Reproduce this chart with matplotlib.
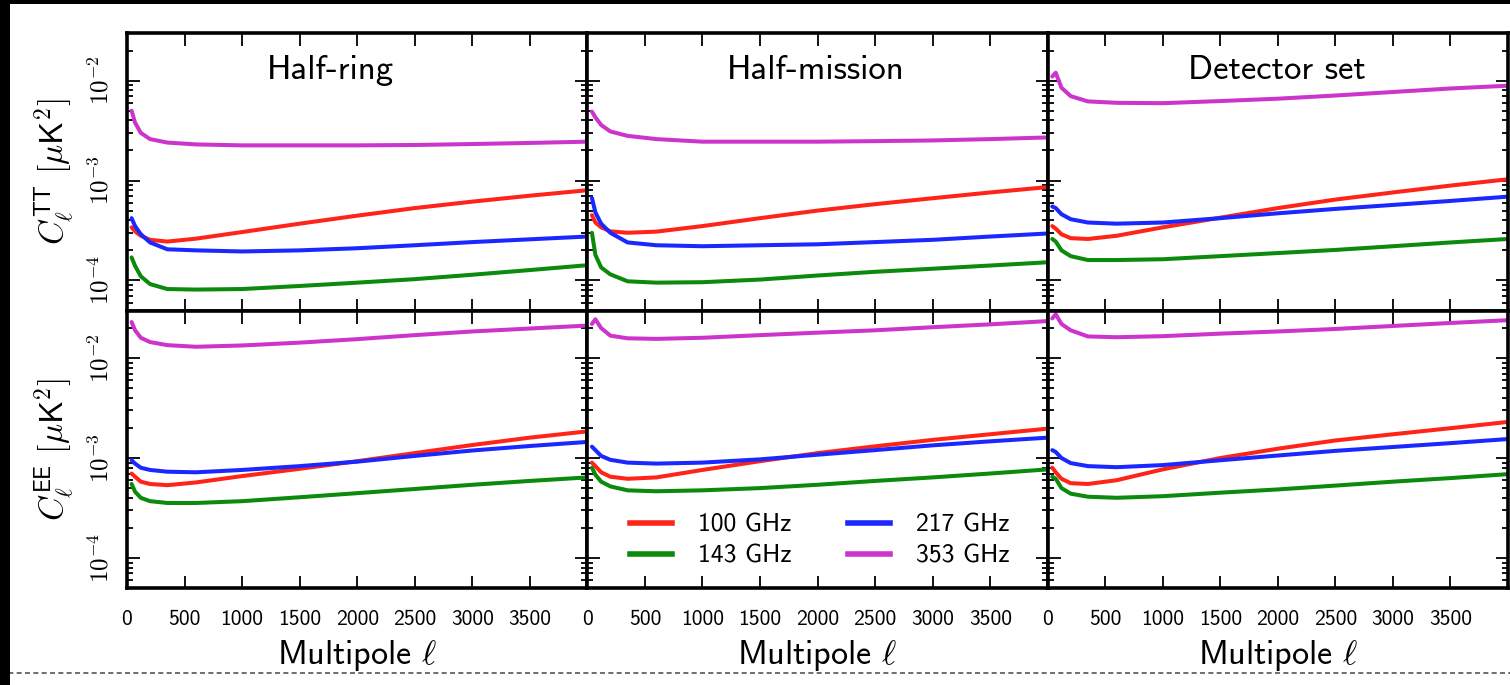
import numpy as np
import matplotlib
matplotlib.use("Agg")
import matplotlib.pyplot as plt
from matplotlib.ticker import FixedLocator, FuncFormatter, LogLocator, NullFormatter
from matplotlib.patches import Rectangle
from matplotlib.lines import Line2D

plt.rcParams['font.family'] = ['cmss10', 'DejaVu Sans']
plt.rcParams['mathtext.fontset'] = 'cm'
plt.rcParams['axes.unicode_minus'] = False

# ---------------- data ----------------
ell = [40, 70, 120, 200, 350, 600, 1000, 1500, 2000, 2500, 3000, 3500, 4000]

columns = ["Half-ring", "Half-mission", "Detector set"]
freqs = ["100 GHz", "143 GHz", "217 GHz", "353 GHz"]
colors = ["#ff2418", "#0c8a0c", "#1a28ff", "#cc35cc"]

# TT, Half-ring
tt_hr_100 = [3.4e-4, 3.1e-4, 2.8e-4, 2.55e-4, 2.45e-4, 2.62e-4, 3.05e-4, 3.7e-4, 4.45e-4, 5.3e-4, 6.15e-4, 7.05e-4, 8.0e-4]
tt_hr_143 = [1.7e-4, 1.4e-4, 1.1e-4, 9.2e-5, 8.2e-5, 8.1e-5, 8.2e-5, 8.8e-5, 9.5e-5, 1.03e-4, 1.14e-4, 1.27e-4, 1.42e-4]
tt_hr_217 = [4.2e-4, 3.5e-4, 2.9e-4, 2.4e-4, 2.05e-4, 2.0e-4, 1.95e-4, 2.0e-4, 2.1e-4, 2.25e-4, 2.42e-4, 2.58e-4, 2.75e-4]
tt_hr_353 = [5.0e-3, 3.8e-3, 3.0e-3, 2.6e-3, 2.4e-3, 2.3e-3, 2.25e-3, 2.25e-3, 2.25e-3, 2.27e-3, 2.32e-3, 2.38e-3, 2.45e-3]
# TT, Half-mission
tt_hm_100 = [4.5e-4, 3.8e-4, 3.4e-4, 3.1e-4, 3.0e-4, 3.08e-4, 3.5e-4, 4.2e-4, 5.0e-4, 5.8e-4, 6.65e-4, 7.6e-4, 8.6e-4]
tt_hm_143 = [3.0e-4, 1.8e-4, 1.35e-4, 1.15e-4, 9.8e-5, 9.5e-5, 9.6e-5, 1.02e-4, 1.12e-4, 1.22e-4, 1.31e-4, 1.41e-4, 1.52e-4]
tt_hm_217 = [6.7e-4, 4.8e-4, 3.7e-4, 3.0e-4, 2.4e-4, 2.25e-4, 2.2e-4, 2.25e-4, 2.3e-4, 2.42e-4, 2.55e-4, 2.75e-4, 2.95e-4]
tt_hm_353 = [4.9e-3, 4.3e-3, 3.6e-3, 3.1e-3, 2.8e-3, 2.6e-3, 2.45e-3, 2.45e-3, 2.45e-3, 2.48e-3, 2.52e-3, 2.6e-3, 2.7e-3]
# TT, Detector set
tt_ds_100 = [3.5e-4, 3.3e-4, 2.9e-4, 2.65e-4, 2.6e-4, 2.8e-4, 3.4e-4, 4.25e-4, 5.3e-4, 6.45e-4, 7.6e-4, 8.9e-4, 1.03e-3]
tt_ds_143 = [2.6e-4, 2.45e-4, 2.0e-4, 1.75e-4, 1.6e-4, 1.6e-4, 1.63e-4, 1.75e-4, 1.88e-4, 2.02e-4, 2.2e-4, 2.4e-4, 2.6e-4]
tt_ds_217 = [5.5e-4, 5.3e-4, 4.6e-4, 4.1e-4, 3.8e-4, 3.7e-4, 3.8e-4, 4.2e-4, 4.7e-4, 5.2e-4, 5.7e-4, 6.25e-4, 6.9e-4]
tt_ds_353 = [1.1e-2, 1.2e-2, 8.5e-3, 7.0e-3, 6.2e-3, 6.0e-3, 5.95e-3, 6.25e-3, 6.6e-3, 7.1e-3, 7.7e-3, 8.35e-3, 8.9e-3]
# EE, Half-ring
ee_hr_100 = [7.0e-4, 6.5e-4, 5.8e-4, 5.5e-4, 5.35e-4, 5.7e-4, 6.6e-4, 7.8e-4, 9.3e-4, 1.12e-3, 1.35e-3, 1.6e-3, 1.85e-3]
ee_hr_143 = [5.5e-4, 4.6e-4, 4.0e-4, 3.7e-4, 3.55e-4, 3.55e-4, 3.7e-4, 4.05e-4, 4.45e-4, 4.9e-4, 5.4e-4, 5.9e-4, 6.4e-4]
ee_hr_217 = [9.5e-4, 8.8e-4, 8.0e-4, 7.6e-4, 7.3e-4, 7.2e-4, 7.6e-4, 8.3e-4, 9.2e-4, 1.05e-3, 1.19e-3, 1.32e-3, 1.45e-3]
ee_hr_353 = [2.3e-2, 1.9e-2, 1.6e-2, 1.45e-2, 1.35e-2, 1.3e-2, 1.34e-2, 1.43e-2, 1.55e-2, 1.7e-2, 1.85e-2, 1.98e-2, 2.12e-2]
# EE, Half-mission
ee_hm_100 = [9.0e-4, 8.3e-4, 7.2e-4, 6.5e-4, 6.2e-4, 6.4e-4, 7.6e-4, 9.3e-4, 1.12e-3, 1.31e-3, 1.52e-3, 1.73e-3, 1.97e-3]
ee_hm_143 = [8.0e-4, 6.8e-4, 5.8e-4, 5.2e-4, 4.75e-4, 4.65e-4, 4.75e-4, 5.0e-4, 5.4e-4, 5.9e-4, 6.4e-4, 7.0e-4, 7.7e-4]
ee_hm_217 = [1.3e-3, 1.2e-3, 1.05e-3, 9.6e-4, 9.0e-4, 8.8e-4, 9.0e-4, 9.7e-4, 1.08e-3, 1.2e-3, 1.34e-3, 1.47e-3, 1.6e-3]
ee_hm_353 = [2.2e-2, 2.45e-2, 2.0e-2, 1.68e-2, 1.58e-2, 1.56e-2, 1.6e-2, 1.7e-2, 1.8e-2, 1.9e-2, 2.04e-2, 2.18e-2, 2.35e-2]
# EE, Detector set
ee_ds_100 = [8.0e-4, 7.2e-4, 6.2e-4, 5.6e-4, 5.5e-4, 6.0e-4, 7.7e-4, 1.0e-3, 1.24e-3, 1.5e-3, 1.73e-3, 1.99e-3, 2.3e-3]
ee_ds_143 = [6.5e-4, 6.2e-4, 5.0e-4, 4.4e-4, 4.1e-4, 4.0e-4, 4.15e-4, 4.5e-4, 4.85e-4, 5.3e-4, 5.8e-4, 6.3e-4, 6.9e-4]
ee_ds_217 = [1.2e-3, 1.15e-3, 1.0e-3, 8.9e-4, 8.3e-4, 8.1e-4, 8.5e-4, 9.5e-4, 1.06e-3, 1.18e-3, 1.29e-3, 1.41e-3, 1.55e-3]
ee_ds_353 = [2.5e-2, 2.75e-2, 2.2e-2, 1.9e-2, 1.65e-2, 1.62e-2, 1.66e-2, 1.76e-2, 1.85e-2, 1.96e-2, 2.1e-2, 2.25e-2, 2.4e-2]

panels = [
    [[tt_hr_100, tt_hr_143, tt_hr_217, tt_hr_353],
     [tt_hm_100, tt_hm_143, tt_hm_217, tt_hm_353],
     [tt_ds_100, tt_ds_143, tt_ds_217, tt_ds_353]],
    [[ee_hr_100, ee_hr_143, ee_hr_217, ee_hr_353],
     [ee_hm_100, ee_hm_143, ee_hm_217, ee_hm_353],
     [ee_ds_100, ee_ds_143, ee_ds_217, ee_ds_353]],
]

xticks = [0, 500, 1000, 1500, 2000, 2500, 3000, 3500]
ylabels = [r'$C_{\ell}^{\mathsf{TT}}\ \mathsf{[}\mu\mathsf{K}^{2}\mathsf{]}$',
           r'$C_{\ell}^{\mathsf{EE}}\ \mathsf{[}\mu\mathsf{K}^{2}\mathsf{]}$']

# ---------------- figure ----------------
W, H = 1510, 685
fig = plt.figure(figsize=(W / 100, H / 100), dpi=100)
gs = fig.add_gridspec(2, 3, left=127 / W, right=1508 / W,
                      top=1 - 33 / H, bottom=1 - 588 / H,
                      wspace=0, hspace=0)


def yfmt(v, pos):
    e = int(round(np.log10(v)))
    return r'$\mathsf{10^{%d}}$' % e


for r in range(2):
    for c in range(3):
        ax = fig.add_subplot(gs[r, c])
        for s in range(4):
            ax.plot(ell, panels[r][c][s], color=colors[s], lw=2.9,
                    solid_joinstyle='round', solid_capstyle='round')
        ax.set_yscale('log')
        ax.set_xlim(0, 4000)
        ax.set_ylim(5e-5, 3e-2)
        ax.xaxis.set_major_locator(FixedLocator(xticks))
        ax.yaxis.set_major_locator(LogLocator(base=10, numticks=10))
        ax.yaxis.set_minor_locator(LogLocator(base=10, subs=np.arange(2, 10), numticks=10))
        ax.yaxis.set_minor_formatter(NullFormatter())
        ax.tick_params(which='both', direction='in', top=True, right=True,
                       width=1.3, colors='black')
        ax.tick_params(which='major', length=9)
        ax.tick_params(which='minor', length=4.5)
        ax.tick_params(axis='x', labelsize=15.5, pad=16)
        ax.tick_params(axis='y', labelsize=18, labelrotation=90, pad=9)
        for sp in ax.spines.values():
            sp.set_linewidth(2.6)
        if c == 0:
            ax.yaxis.set_major_formatter(FuncFormatter(yfmt))
            for lab in ax.get_yticklabels():
                lab.set_verticalalignment('center')
            ax.set_ylabel(ylabels[r], fontsize=24, labelpad=8)
        else:
            ax.set_yticklabels([])
        if r == 0:
            ax.set_xticklabels([])
            ax.text(0.304, 0.834, columns[c], transform=ax.transAxes,
                    fontsize=25, ha='left', va='baseline')
        else:
            ax.set_xticklabels([str(t) for t in xticks])
            ax.set_xlabel(r'Multipole $\ell$', fontsize=24.5, labelpad=6)
        if r == 1 and c == 1:
            handles = [Line2D([], [], color=colors[s], lw=4) for s in range(4)]
            ax.legend(handles, freqs, ncol=2, loc='center',
                      bbox_to_anchor=(0.505, 0.17), frameon=False,
                      fontsize=18.5, handlelength=1.65, handletextpad=1.0,
                      columnspacing=2.2, labelspacing=0.3)

# scanned-frame decoration
fig.patches.append(Rectangle((0, 0), 10 / W, 1, transform=fig.transFigure,
                             facecolor='black', edgecolor='none', zorder=10))
fig.patches.append(Rectangle((0, 1 - 4 / H), 1, 4 / H, transform=fig.transFigure,
                             facecolor='black', edgecolor='none', zorder=10))
fig.add_artist(Line2D([0, 1], [1 - 673 / H, 1 - 673 / H], transform=fig.transFigure,
                      color='#555555', lw=1.2, ls=(0, (3, 2))))

fig.savefig('out.png', dpi=100)
